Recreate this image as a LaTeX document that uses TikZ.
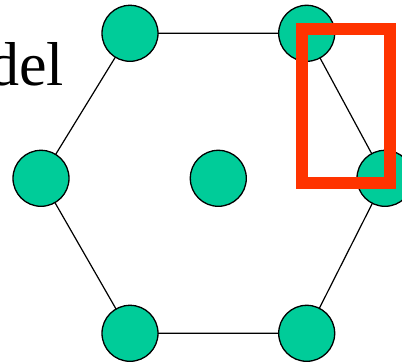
\documentclass[tikz,border=0pt]{standalone}
\usepackage{fontspec}
\setmainfont{Liberation Serif}
\definecolor{nodegreen}{RGB}{0,204,153}
\definecolor{markred}{RGB}{255,51,0}
\begin{document}
\begin{tikzpicture}[x=1pt,y=-1pt,
  site/.style={circle,draw=black,line width=1.3pt,fill=nodegreen,minimum size=56pt,inner sep=0pt},
  bond/.style={draw=black,line width=1.2pt}]
\clip (0,0) rectangle (402,362);
\fill[white] (0,0) rectangle (402,362);
\node[anchor=base east,inner sep=0pt,font=\fontsize{62}{62}\selectfont] (lbl) at (64,85) {del};
\coordinate (ctl) at (130,33.3);
\coordinate (ctr) at (306.7,33.3);
\coordinate (cl) at (41,178.3);
\coordinate (cc) at (218.3,178.3);
\coordinate (cr) at (385,178.3);
\coordinate (cbl) at (130,333.3);
\coordinate (cbr) at (306.7,333.3);
\draw[bond] (ctl) -- (ctr) -- (cr) -- (cbr) -- (cbl) -- (cl) -- cycle;
\node[site] (tl) at (ctl) {};
\node[site] (tr) at (ctr) {};
\node[site] (l) at (cl) {};
\node[site] (c) at (cc) {};
\node[site] (r) at (cr) {};
\node[site] (bl) at (cbl) {};
\node[site] (br) at (cbr) {};
\draw[markred,line width=12pt] (301.7,28.5) rectangle (390,183);
\end{tikzpicture}
\end{document}
